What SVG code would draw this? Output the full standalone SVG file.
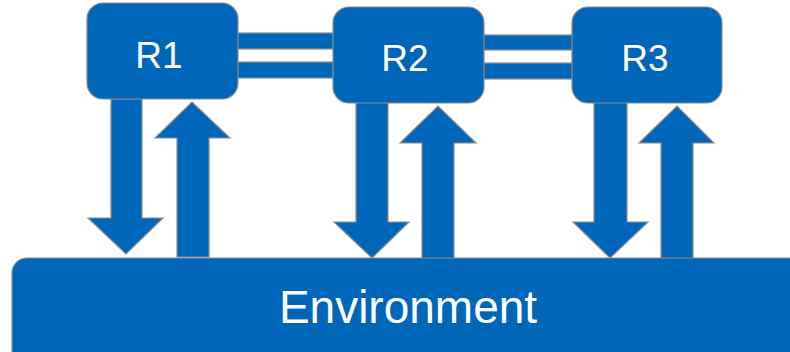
<svg xmlns="http://www.w3.org/2000/svg" width="790" height="352" viewBox="0 0 790 352">
  <style>
    .shape { fill: #0066BA; stroke: #8C8C8C; stroke-width: 1.2; }
    .label { fill: #FFFFFF; font-family: "Liberation Sans", Arial, sans-serif; text-anchor: middle; }
    .node-label { font-size: 37px; }
  </style>
  <rect width="790" height="352" fill="#FFFFFF"/>

  <!-- connectors: links between nodes and arrows to/from the environment -->
  <g id="connectors">
    <!-- R1 - R2 double link -->
    <rect class="shape" x="237" y="33" width="97" height="16"/>
    <rect class="shape" x="237" y="62" width="97" height="16"/>
    <!-- R2 - R3 double link -->
    <rect class="shape" x="483" y="35" width="90" height="15"/>
    <rect class="shape" x="483" y="63" width="90" height="16"/>

    <!-- R1 arrows -->
    <polygon class="shape" points="111,99 142,99 142,218 163,218 126,254 88,218 111,218"/>
    <polygon class="shape" points="177,257 209,257 209,138 230,138 192,102 155,138 177,138"/>
    <!-- R2 arrows -->
    <polygon class="shape" points="356,102 388,102 388,222 409,222 372,258 334,222 356,222"/>
    <polygon class="shape" points="422,260 454,260 454,143 476,143 438,106 400,143 422,143"/>
    <!-- R3 arrows -->
    <polygon class="shape" points="594,102 627,102 627,222 648,222 610,258 573,222 594,222"/>
    <polygon class="shape" points="661,260 693,260 693,143 714,143 677,106 639,143 661,143"/>
  </g>

  <g id="R1">
    <rect class="shape" x="87" y="3" width="151" height="96" rx="16"/>
    <text class="label node-label" x="159" y="68">R1</text>
  </g>
  <g id="R2">
    <rect class="shape" x="333" y="7" width="151" height="96" rx="16"/>
    <text class="label node-label" x="405" y="71">R2</text>
  </g>
  <g id="R3">
    <rect class="shape" x="572" y="7" width="150" height="96" rx="16"/>
    <text class="label node-label" x="645" y="71">R3</text>
  </g>

  <g id="Environment">
    <rect class="shape" x="12" y="258" width="800" height="120" rx="15"/>
    <text class="label" x="408" y="323" font-size="46">Environment</text>
  </g>
</svg>
